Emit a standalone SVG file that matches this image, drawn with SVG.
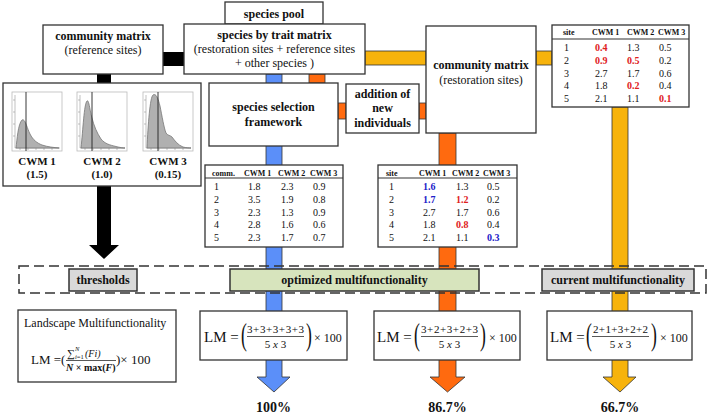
<svg xmlns="http://www.w3.org/2000/svg" width="709" height="415" viewBox="0 0 709 415">
<style>
text{font-family:'Liberation Serif','Times New Roman',Tinos,'Nimbus Roman','DejaVu Serif',serif;fill:#111}
.b{font-weight:bold}
.t12{font-size:12px}
.c{text-anchor:middle}
.box{fill:#fff;stroke:#333;stroke-width:1.3}
.hd{font-size:8px;font-weight:bold}
.v{font-size:10px;fill:#333}
.r{fill:#e0201c;font-weight:bold}
.bl{fill:#2020c8;font-weight:bold}
.blk{fill:#000}
.blue{fill:#5b8ff9;stroke:#333;stroke-width:0.8}
.org{fill:#ff6a0f;stroke:#333;stroke-width:0.8}
.yel{fill:#f7b30c;stroke:#333;stroke-width:0.8}
.lab{stroke:#333;stroke-width:1.5}
.frame{fill:#fff;stroke:#bbb;stroke-width:0.8}
.dens{fill:#b0b0b0;stroke:#777;stroke-width:0.8}
.ax{stroke:#999;stroke-width:0.6;fill:none}
.hl{font-size:11px;font-weight:bold;text-anchor:middle}
.lm{font-size:15px}
.x100{font-size:12px}
.num{font-size:11px}
.par{font-size:32px}
.pct{font-size:14px;font-weight:bold;text-anchor:middle}
</style>

<g id="connectors">
  <rect class="blk" x="163" y="52" width="21" height="14"/>
  <rect class="blk" x="97" y="74" width="14" height="9"/>
  <polygon class="blk" points="97,186 111,186 111,245 119,245 104,259 89,245 97,245"/>
  <polygon class="blue" points="266,74 282,74 282,377 290,377 274,392 257,377 266,377"/>
  <rect class="org" x="309" y="74" width="16" height="9"/>
  <rect class="org" x="338" y="103" width="8" height="16"/>
  <rect class="org" x="419" y="103" width="7" height="16"/>
  <polygon class="org" points="439,133 456,133 456,377 465,377 447.5,392 430,377 439,377"/>
  <rect class="yel" x="365" y="51" width="61" height="14"/>
  <rect class="yel" x="536" y="51" width="16" height="14"/>
  <polygon class="yel" points="612,107 628,107 628,377 636,377 620,392 603,377 612,377"/>
</g>

<g id="species-pool">
  <rect class="box" x="225" y="2" width="98" height="22"/>
  <text class="b t12 c" x="274" y="18">species pool</text>
</g>

<g id="trait-matrix">
  <rect class="box" x="184" y="24" width="181" height="50"/>
  <text class="b t12 c" x="274.5" y="39">species by trait matrix</text>
  <text class="t12 c" x="274.5" y="53">(restoration sites + reference sites</text>
  <text class="t12 c" x="274.5" y="67">+  other species )</text>
</g>

<g id="community-reference">
  <rect class="box" x="43" y="25" width="120" height="49"/>
  <text class="b t12 c" x="103" y="40">community matrix</text>
  <text class="t12 c" x="103" y="54">(reference sites)</text>
</g>

<g id="histograms">
  <rect class="box" x="3" y="83" width="198" height="103"/>
  <g id="hist1">
    <rect class="frame" x="12" y="92" width="50" height="59"/>
    <path class="ax" d="M15,95 V148 H60 M13,100 H15 M13,112 H15 M13,124 H15 M13,136 H15 M20,148 V150 M28,148 V150 M36,148 V150 M44,148 V150 M52,148 V150"/>
    <path class="dens" d="M16,148 C17,140 18,124 22,120 C25,118 27,128 30,134 C33,140 37,143 42,145 C48,147 54,147.5 59,148 Z"/>
    <line x1="26" y1="92" x2="26" y2="151" stroke="#222" stroke-width="0.9"/>
    <text class="hl" x="37" y="165">CWM 1</text>
    <text class="hl" x="37" y="178">(1.5)</text>
  </g>
  <g id="hist2">
    <rect class="frame" x="77" y="92" width="50" height="59"/>
    <path class="ax" d="M80,95 V148 H125 M78,100 H80 M78,112 H80 M78,124 H80 M78,136 H80 M85,148 V150 M93,148 V150 M101,148 V150 M109,148 V150 M117,148 V150"/>
    <path class="dens" d="M81,148 C83,130 84,104 87,101 C89,99 90,112 92,118 C94,126 97,133 101,139 C105,144 110,145 116,146.5 C120,147.5 123,148 125,148 Z"/>
    <line x1="92" y1="92" x2="92" y2="151" stroke="#222" stroke-width="0.9"/>
    <text class="hl" x="102" y="165">CWM 2</text>
    <text class="hl" x="102" y="178">(1.0)</text>
  </g>
  <g id="hist3">
    <rect class="frame" x="143" y="92" width="50" height="59"/>
    <path class="ax" d="M146,95 V148 H191 M144,100 H146 M144,112 H146 M144,124 H146 M144,136 H146 M151,148 V150 M159,148 V150 M167,148 V150 M175,148 V150 M183,148 V150"/>
    <path class="dens" d="M147,148 C148,125 150,97 153,95 C156,93 158,98 160,106 C162,116 164,128 166,133 C168,136 170,135 172,137 C175,141 178,145 183,147 C186,147.8 189,148 191,148 Z"/>
    <line x1="158" y1="92" x2="158" y2="151" stroke="#222" stroke-width="0.9"/>
    <text class="hl" x="168" y="165">CWM 3</text>
    <text class="hl" x="168" y="178">(0.15)</text>
  </g>
</g>

<g id="species-selection">
  <rect class="box" x="209" y="83" width="129" height="63"/>
  <text class="b t12 c" x="273.5" y="111">species selection</text>
  <text class="b t12 c" x="273.5" y="126">framework</text>
</g>

<g id="addition">
  <rect class="box" x="346" y="84" width="73" height="49"/>
  <text class="b t12 c" x="382.5" y="98">addition of</text>
  <text class="b t12 c" x="382.5" y="112">new</text>
  <text class="b t12 c" x="382.5" y="127">individuals</text>
</g>

<g id="community-restoration">
  <rect class="box" x="426" y="26" width="110" height="107"/>
  <text class="b t12 c" x="481" y="69">community matrix</text>
  <text class="t12 c" x="481" y="84">(restoration sites)</text>
</g>

<g id="table-current">
  <rect class="box" x="552" y="25" width="137" height="82"/>
  <line x1="552" y1="39" x2="689" y2="39" stroke="#333" stroke-width="1.2"/>
  <text class="hd" x="563" y="35">site</text>
  <text class="hd" x="592" y="35">CWM 1</text>
  <text class="hd" x="627" y="35">CWM 2</text>
  <text class="hd" x="658" y="35">CWM 3</text>
  <g class="v">
    <text x="564" y="51">1</text><text x="595" y="51" class="r">0.4</text><text x="627" y="51">1.3</text><text x="659" y="51">0.5</text>
    <text x="564" y="64">2</text><text x="595" y="64" class="r">0.9</text><text x="627" y="64" class="r">0.5</text><text x="659" y="64">0.2</text>
    <text x="564" y="76.5">3</text><text x="595" y="76.5">2.7</text><text x="627" y="76.5">1.7</text><text x="659" y="76.5">0.6</text>
    <text x="564" y="89">4</text><text x="595" y="89">1.8</text><text x="627" y="89" class="r">0.2</text><text x="659" y="89">0.4</text>
    <text x="564" y="101.5">5</text><text x="595" y="101.5">2.1</text><text x="627" y="101.5">1.1</text><text x="659" y="101.5" class="r">0.1</text>
  </g>
</g>

<g id="table-comm">
  <rect class="box" x="205" y="165" width="138" height="82"/>
  <line x1="205" y1="178" x2="343" y2="178" stroke="#333" stroke-width="1.2"/>
  <text class="hd" x="212" y="176">comm.</text>
  <text class="hd" x="244" y="176">CWM 1</text>
  <text class="hd" x="278" y="176">CWM 2</text>
  <text class="hd" x="310" y="176">CWM 3</text>
  <g class="v">
    <text x="214" y="190">1</text><text x="248" y="190">1.8</text><text x="281" y="190">2.3</text><text x="313" y="190">0.9</text>
    <text x="214" y="203">2</text><text x="248" y="203">3.5</text><text x="281" y="203">1.9</text><text x="313" y="203">0.8</text>
    <text x="214" y="215.5">3</text><text x="248" y="215.5">2.3</text><text x="281" y="215.5">1.3</text><text x="313" y="215.5">0.9</text>
    <text x="214" y="228">4</text><text x="248" y="228">2.8</text><text x="281" y="228">1.6</text><text x="313" y="228">0.6</text>
    <text x="214" y="240.5">5</text><text x="248" y="240.5">2.3</text><text x="281" y="240.5">1.7</text><text x="313" y="240.5">0.7</text>
  </g>
</g>

<g id="table-site">
  <rect class="box" x="378" y="165" width="139" height="82"/>
  <line x1="378" y1="178" x2="517" y2="178" stroke="#333" stroke-width="1.2"/>
  <text class="hd" x="386" y="176">site</text>
  <text class="hd" x="419" y="176">CWM 1</text>
  <text class="hd" x="452" y="176">CWM 2</text>
  <text class="hd" x="483" y="176">CWM 3</text>
  <g class="v">
    <text x="389" y="190">1</text><text x="423" y="190" class="bl">1.6</text><text x="456" y="190">1.3</text><text x="487" y="190">0.5</text>
    <text x="389" y="203">2</text><text x="423" y="203" class="bl">1.7</text><text x="456" y="203" class="r">1.2</text><text x="487" y="203">0.2</text>
    <text x="389" y="215.5">3</text><text x="423" y="215.5">2.7</text><text x="456" y="215.5">1.7</text><text x="487" y="215.5">0.6</text>
    <text x="389" y="228">4</text><text x="423" y="228">1.8</text><text x="456" y="228" class="r">0.8</text><text x="487" y="228">0.4</text>
    <text x="389" y="240.5">5</text><text x="423" y="240.5">2.1</text><text x="456" y="240.5">1.1</text><text x="487" y="240.5" class="bl">0.3</text>
  </g>
</g>

<g id="dashed-frame">
  <rect x="19" y="266" width="687" height="27" fill="none" stroke="#333" stroke-width="1.5" stroke-dasharray="10 5"/>
</g>

<g id="thresholds">
  <rect class="lab" x="69" y="269" width="68" height="22" fill="#d9d9d9"/>
  <text class="b t12 c" x="103" y="284">thresholds</text>
</g>
<g id="optimized">
  <rect class="lab" x="230" y="269" width="249" height="22" fill="#d7e4bd"/>
  <text class="b t12 c" x="354.5" y="284">optimized multifunctionality</text>
</g>
<g id="current">
  <rect class="lab" x="542" y="269" width="152" height="22" fill="#d9d9d9"/>
  <text class="b t12 c" x="618" y="284">current multifunctionality</text>
</g>

<g id="lm-definition">
  <rect class="box" x="18" y="310" width="158" height="72"/>
  <text class="t12" x="24" y="327">Landscape Multifunctionality</text>
  <text font-size="13" x="31" y="364">LM =(</text>
  <text font-size="11" x="67" y="357">∑</text>
  <text font-size="6.5" x="75" y="351" font-style="italic">N</text>
  <text font-size="6.5" x="75" y="359"><tspan font-style="italic">i</tspan>=1</text>
  <text font-size="10" x="85" y="357" font-style="italic">(Fi)</text>
  <line x1="66" y1="360.5" x2="116" y2="360.5" stroke="#111" stroke-width="0.7"/>
  <text font-size="10" x="66" y="371" font-weight="bold"><tspan font-style="italic">N</tspan> × max(<tspan font-style="italic">F</tspan>)</text>
  <text font-size="13" x="116" y="364">)× 100</text>
</g>

<g id="lm-optimized-framework">
  <rect class="box" x="200" y="311" width="147" height="49"/>
  <text class="lm" x="204" y="342">LM =</text>
  <text class="par" transform="translate(241,345) scale(0.55,1)">(</text>
  <text class="num c" x="275.5" y="333" textLength="57" lengthAdjust="spacing">3+3+3+3+3</text>
  <line x1="247" y1="336.5" x2="304" y2="336.5" stroke="#111" stroke-width="0.7"/>
  <text class="num c" x="275.5" y="348">5 <tspan font-style="italic">x</tspan> 3</text>
  <text class="par" transform="translate(306,345) scale(0.55,1)">)</text>
  <text class="x100" x="314" y="342">× 100</text>
</g>

<g id="lm-optimized-new">
  <rect class="box" x="374" y="311" width="146" height="49"/>
  <text class="lm" x="377" y="342">LM =</text>
  <text class="par" transform="translate(414,345) scale(0.55,1)">(</text>
  <text class="num c" x="449.5" y="333" textLength="57" lengthAdjust="spacing">3+2+3+2+3</text>
  <line x1="421" y1="336.5" x2="478" y2="336.5" stroke="#111" stroke-width="0.7"/>
  <text class="num c" x="449.5" y="348">5 <tspan font-style="italic">x</tspan> 3</text>
  <text class="par" transform="translate(480,345) scale(0.55,1)">)</text>
  <text class="x100" x="489" y="342">× 100</text>
</g>

<g id="lm-current">
  <rect class="box" x="547" y="311" width="145" height="49"/>
  <text class="lm" x="550" y="342">LM =</text>
  <text class="par" transform="translate(586,345) scale(0.55,1)">(</text>
  <text class="num c" x="620.5" y="333" textLength="55" lengthAdjust="spacing">2+1+3+2+2</text>
  <line x1="592" y1="336.5" x2="649" y2="336.5" stroke="#111" stroke-width="0.7"/>
  <text class="num c" x="620.5" y="348">5 <tspan font-style="italic">x</tspan> 3</text>
  <text class="par" transform="translate(651,345) scale(0.55,1)">)</text>
  <text class="x100" x="660" y="342">× 100</text>
</g>

<g id="results">
  <text class="pct" x="273.5" y="412">100%</text>
  <text class="pct" x="447.5" y="412">86.7%</text>
  <text class="pct" x="620" y="412">66.7%</text>
</g>
</svg>
